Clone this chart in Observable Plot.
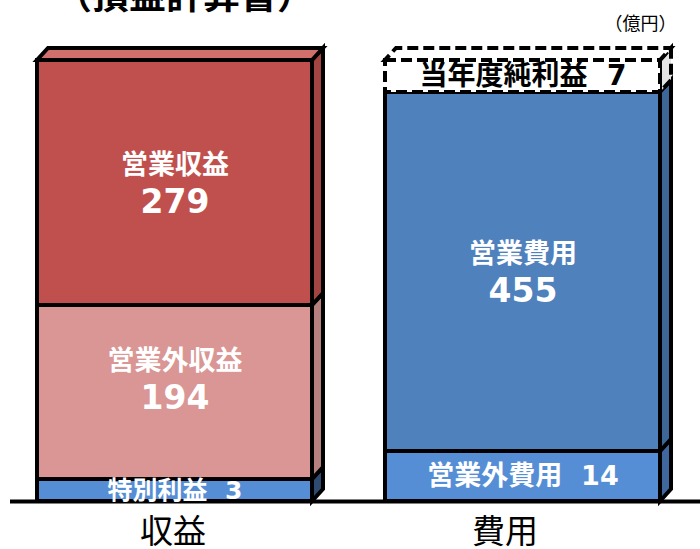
<!DOCTYPE html>
<html><head><meta charset="utf-8">
<script src="https://cdn.jsdelivr.net/npm/d3@7"></script>
<script src="https://cdn.jsdelivr.net/npm/@observablehq/plot@0.6"></script>
<style>body{margin:0;background:#fff;overflow:hidden} svg{display:block}</style>
</head><body><div id="chart"></div>
<script>
// ---- data ----
const categories = ["収益", "費用"];
const revenueItems = ["特別利益", "営業外収益", "営業収益"];
const revenueValues = [3, 194, 279];
const expenseItems = ["営業外費用", "営業費用", "当年度純利益"];
const expenseValues = [14, 455, 7];
const titleText = "（損益計算書）";
const unitLabel = "（億円）";

// ---- styles ----
const frontColor = {特別利益:"#558ed5", 営業外収益:"#d99694", 営業収益:"#c0504d", 営業外費用:"#558ed5", 営業費用:"#4f81bd", 当年度純利益:"#ffffff"};
const sideColor  = {特別利益:"#2f4a70", 営業外収益:"#b5807e", 営業収益:"#a24442", 営業外費用:"#40689e", 営業費用:"#3d6796", 当年度純利益:"#e4e4e4"};
const topColor   = {営業収益:"#d06f6c", 当年度純利益:"#ffffff"};
const dashedItems = new Set(["当年度純利益"]);
const twoLineItems = new Set(["営業収益", "営業外収益", "営業費用"]);
const labelShift = {営業外収益: -13};
const oneLineSize = {特別利益: 25, 営業外費用: 27, 当年度純利益: 28};
const oneLineColor = {特別利益: "#fff", 営業外費用: "#fff", 当年度純利益: "#000"};
const catDx = [-2, -18];

function stack(cat, items, values) {
  let acc = 0;
  return items.map((item, i) => { const y1 = acc; acc += values[i]; return {cat, item, value: values[i], y1, y2: acc}; });
}
const rows = [...stack(categories[0], revenueItems, revenueValues), ...stack(categories[1], expenseItems, expenseValues)];
const breaks = Array.from(new Set(rows.flatMap(d => [d.y1, d.y2]))).sort((a, b) => a - b);
const yRange = [501, 479, 451, 305, 92, 60];
// label anchor: visual middle of each segment under the piecewise y scale
const yPiece = d3.scaleLinear().domain(breaks).range(yRange);
const labelY = r => yPiece.invert((yPiece(r.y1) + yPiece(r.y2)) / 2);

const solidRows = rows.filter(d => !dashedItems.has(d.item));
const dashRows = rows.filter(d => dashedItems.has(d.item));

const labelMarks = [];
for (const r of rows) {
  const mid = labelY(r);
  const shift = labelShift[r.item] || 0;
  if (twoLineItems.has(r.item)) {
    labelMarks.push(Plot.text([r], {x: "cat", y: () => mid, text: "item", dy: -18 + shift,
      fill: "#fff", fontSize: 27, fontWeight: "bold", fontFamily: "'Noto Sans CJK JP', sans-serif"}));
    labelMarks.push(Plot.text([r], {x: "cat", y: () => mid, text: d => String(d.value), dy: 19 + shift,
      fill: "#fff", fontSize: 33, fontWeight: "bold", fontFamily: "'DejaVu Sans', sans-serif"}));
  } else {
    labelMarks.push(Plot.text([r], {x: "cat", y: () => mid, text: d => d.item + "\u00a0\u00a0" + d.value, dy: shift,
      fill: oneLineColor[r.item], fontSize: oneLineSize[r.item], fontWeight: "bold",
      fontFamily: "'DejaVu Sans', 'Noto Sans CJK JP', sans-serif"}));
  }
}

const chart = Plot.plot({
  width: 700, height: 549,
  marginTop: 0, marginBottom: 0, marginLeft: 10, marginRight: 0,
  x: {type: "band", domain: categories, range: [37, 660], paddingInner: 0.21, paddingOuter: 0, axis: null},
  y: {type: "linear", domain: breaks, range: yRange, axis: null},
  style: {background: "#fff"},
  marks: [
    Plot.barY(solidRows, {x: "cat", y1: "y1", y2: "y2", fill: d => frontColor[d.item], stroke: "#000", strokeWidth: 4, strokeLinejoin: "miter"}),
    Plot.barY(dashRows, {x: "cat", y1: "y1", y2: "y2", fill: d => frontColor[d.item], stroke: "#000", strokeWidth: 4, strokeDasharray: "11 5"}),
    Plot.ruleY([0], {stroke: "#000", strokeWidth: 4}),
    ...labelMarks,
    ...categories.map((c, i) => Plot.text([c], {x: d => d, frameAnchor: "bottom", lineAnchor: "middle", dy: -17, dx: catDx[i],
      fontSize: 33, fill: "#000", fontFamily: "'Noto Sans CJK JP', sans-serif"})),
    Plot.text([titleText], {frameAnchor: "top", lineAnchor: "middle", dx: -171, dy: -3, fontSize: 37, fontWeight: "bold", fill: "#000",
      fontFamily: "'Noto Sans CJK JP', sans-serif"}),
    Plot.text([unitLabel], {frameAnchor: "top-right", textAnchor: "end", lineAnchor: "middle", dx: -24, dy: 24, fontSize: 18, fill: "#000",
      fontFamily: "'Noto Sans CJK JP', sans-serif"})
  ]
});

// 3D side and top faces drawn from the same Plot scales
const sx = chart.scale("x"), sy = chart.scale("y");
const bw = sx.bandwidth;
const ox = 11, oy = -12;
const g = d3.select(chart).insert("g", "g");
for (const cat of categories) {
  const segs = rows.filter(d => d.cat === cat);
  const xl = sx.apply(cat), xr = xl + bw;
  for (const s of segs) {
    const ya = sy.apply(s.y1), yb = sy.apply(s.y2);
    g.append("polygon")
      .attr("points", [[xr, ya], [xr, yb], [xr + ox, yb + oy], [xr + ox, ya + oy]].map(p => p.join(",")).join(" "))
      .attr("fill", sideColor[s.item]).attr("stroke", "#000").attr("stroke-width", 4)
      .attr("stroke-dasharray", dashedItems.has(s.item) ? "11 5" : null);
  }
  const t = segs[segs.length - 1];
  const yt = sy.apply(t.y2);
  g.append("polygon")
    .attr("points", [[xl, yt], [xr, yt], [xr + ox, yt + oy], [xl + ox, yt + oy]].map(p => p.join(",")).join(" "))
    .attr("fill", topColor[t.item]).attr("stroke", "#000").attr("stroke-width", 4)
    .attr("stroke-dasharray", dashedItems.has(t.item) ? "11 5" : null);
}
document.getElementById("chart").appendChild(chart);
</script>
</body></html>
